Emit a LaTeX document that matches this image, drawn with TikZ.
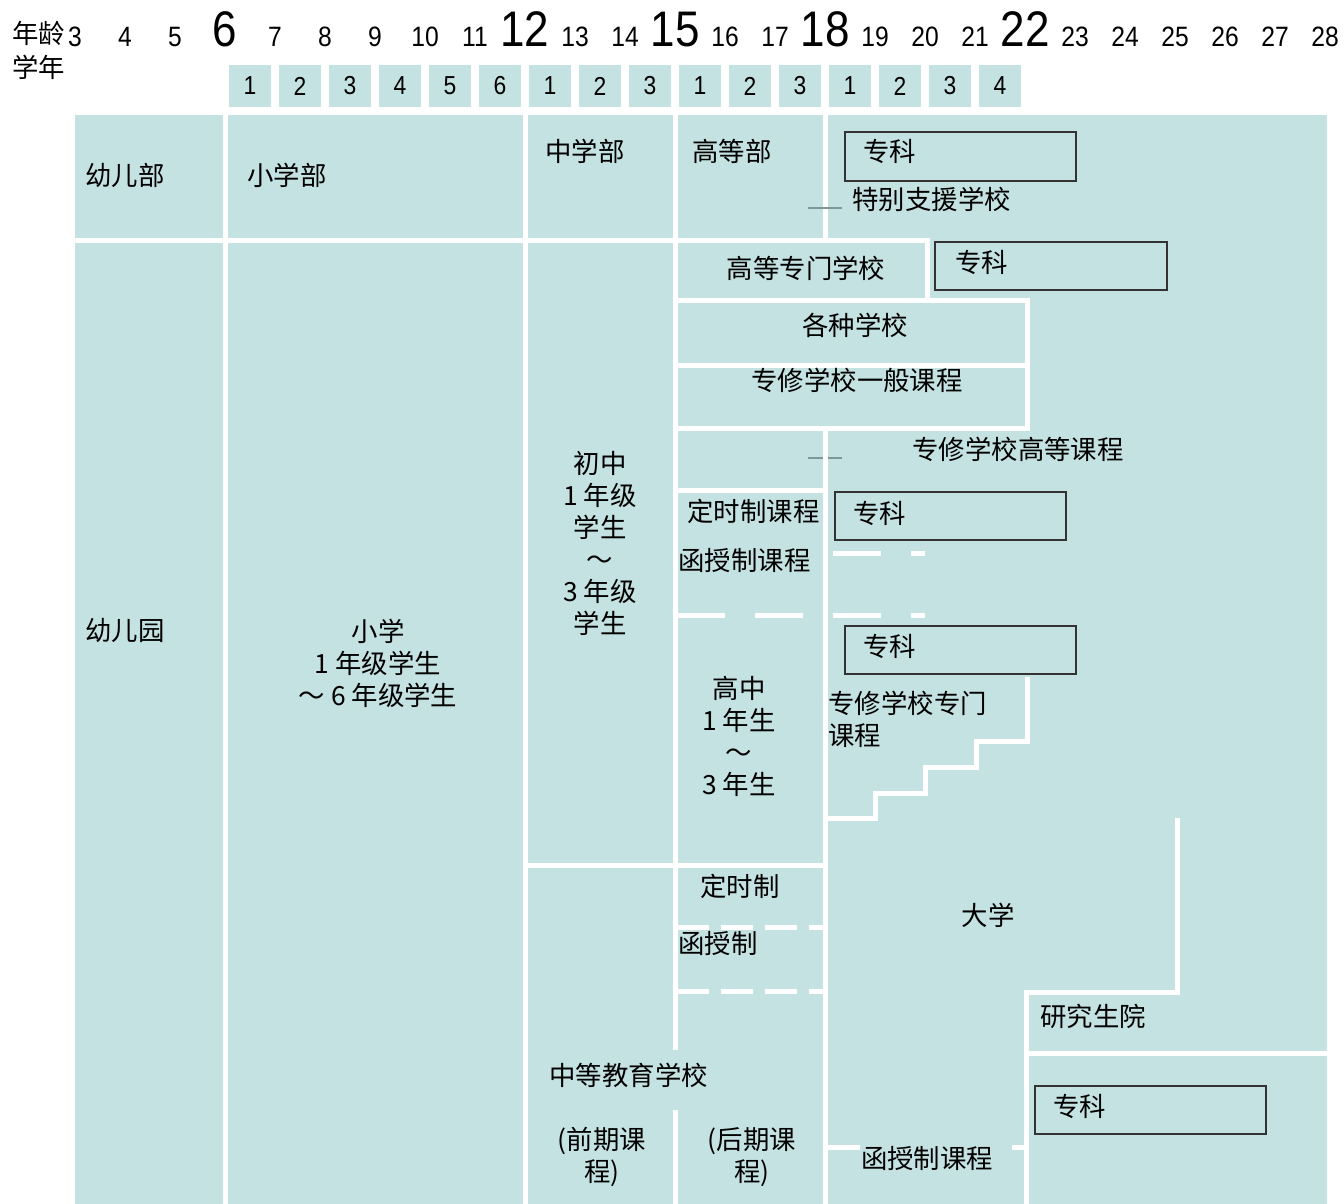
\documentclass[tikz,border=0pt]{standalone}
\usepackage{fontspec}
\setmainfont{Noto Sans CJK SC}
\newfontfamily\numfont[FakeStretch=0.88]{Liberation Sans}
\definecolor{schoolteal}{HTML}{C4E2E1}
\definecolor{markgray}{HTML}{7D9897}
\definecolor{boxline}{HTML}{333333}
\tikzset{
  wall/.style={white, line width=2.5pt},
  longdash/.style={wall, dash pattern=on 24pt off 15pt},
  shortdash/.style={wall, dash pattern=on 16pt off 6pt},
  tickmark/.style={markgray, line width=1pt},
  kbox/.style={boxline, line width=1pt},
  lbl/.style={inner sep=0pt, font=\fontsize{13.2}{16}\selectfont},
  agesmall/.style={anchor=base, inner sep=0pt, font=\numfont\fontsize{14}{14}\selectfont},
  agebig/.style={anchor=base, inner sep=0pt, font=\numfont\fontsize{25}{25}\selectfont},
  grade/.style={fill=schoolteal, minimum width=21pt, minimum height=21pt, inner sep=0pt, font=\numfont\fontsize{13}{13}\selectfont}
}
\begin{document}
\begin{tikzpicture}[x=0.5pt,y=-0.5pt]
\useasboundingbox (0,0) rectangle (1344,1204);
\fill[schoolteal] (75,115) rectangle (1327,1204);
\draw[tickmark] (808,458) -- (842,458);
\draw[wall] (225,115) -- (225,1204);
\draw[wall] (525,115) -- (525,1204);
\draw[wall] (675,115) -- (675,1050);
\draw[wall] (675,1110) -- (675,1204);
\draw[wall] (825,115) -- (825,240);
\draw[wall] (75,240) -- (927,240) -- (927,300);
\draw[wall] (675,300) -- (1027,300) -- (1027,428) -- (675,428);
\draw[wall] (675,365) -- (1027,365);
\draw[wall] (825,428) -- (825,1204);
\draw[wall] (675,490) -- (825,490);
\draw[wall] (1027,677) -- (1027,741) -- (976,741) -- (976,767) -- (925,767) -- (925,793) -- (875,793) -- (875,818) -- (825,818);
\draw[wall] (525,865) -- (825,865);
\draw[wall] (1177,818) -- (1177,992) -- (1026,992) -- (1026,1204);
\draw[wall] (1026,1053) -- (1327,1053);
\draw[wall] (825,1147) -- (860,1147);
\draw[wall] (1012,1147) -- (1026,1147);
\draw[longdash] (677,615) -- (925,615);
\draw[longdash] (833,553) -- (925,553);
\draw[shortdash] (677,927) -- (825,927);
\draw[shortdash] (677,991) -- (825,991);
\draw[tickmark] (808,208) -- (842,208);
\draw[kbox] (845,132) rectangle (1076,181);
\draw[kbox] (935,242) rectangle (1167,290);
\draw[kbox] (835,492) rectangle (1066,540);
\draw[kbox] (845,626) rectangle (1076,674);
\draw[kbox] (1035,1086) rectangle (1266,1134);
\node[lbl, anchor=west] (agehead) at (12,33) {年龄};
\node[lbl, anchor=west] (gradehead) at (12,67) {学年};
\node[agesmall] (age3) at (75,47) {3};
\node[agesmall] (age4) at (125,47) {4};
\node[agesmall] (age5) at (175,47) {5};
\node[agebig] (age6) at (225,47) {6};
\node[agesmall] (age7) at (275,47) {7};
\node[agesmall] (age8) at (325,47) {8};
\node[agesmall] (age9) at (375,47) {9};
\node[agesmall] (age10) at (425,47) {10};
\node[agesmall] (age11) at (475,47) {11};
\node[agebig] (age12) at (525,47) {12};
\node[agesmall] (age13) at (575,47) {13};
\node[agesmall] (age14) at (625,47) {14};
\node[agebig] (age15) at (675,47) {15};
\node[agesmall] (age16) at (725,47) {16};
\node[agesmall] (age17) at (775,47) {17};
\node[agebig] (age18) at (825,47) {18};
\node[agesmall] (age19) at (875,47) {19};
\node[agesmall] (age20) at (925,47) {20};
\node[agesmall] (age21) at (975,47) {21};
\node[agebig] (age22) at (1025,47) {22};
\node[agesmall] (age23) at (1075,47) {23};
\node[agesmall] (age24) at (1125,47) {24};
\node[agesmall] (age25) at (1175,47) {25};
\node[agesmall] (age26) at (1225,47) {26};
\node[agesmall] (age27) at (1275,47) {27};
\node[agesmall] (age28) at (1325,47) {28};
\node[grade] (el1) at (250,86) {1};
\node[grade] (el2) at (300,86) {2};
\node[grade] (el3) at (350,86) {3};
\node[grade] (el4) at (400,86) {4};
\node[grade] (el5) at (450,86) {5};
\node[grade] (el6) at (500,86) {6};
\node[grade] (jh1) at (550,86) {1};
\node[grade] (jh2) at (600,86) {2};
\node[grade] (jh3) at (650,86) {3};
\node[grade] (hs1) at (700,86) {1};
\node[grade] (hs2) at (750,86) {2};
\node[grade] (hs3) at (800,86) {3};
\node[grade] (un1) at (850,86) {1};
\node[grade] (un2) at (900,86) {2};
\node[grade] (un3) at (950,86) {3};
\node[grade] (un4) at (1000,86) {4};
\node[lbl, anchor=west] (kinderdept) at (85,175) {幼儿部};
\node[lbl, anchor=west] (elemdept) at (247,175) {小学部};
\node[lbl, anchor=west] (middept) at (545,151) {中学部};
\node[lbl, anchor=west] (highdept) at (692,151) {高等部};
\node[lbl, anchor=west] (zk1) at (863,151) {专科};
\node[lbl, anchor=west] (special) at (852,199) {特别支援学校};
\node[lbl] (kosen) at (806,268) {高等专门学校};
\node[lbl, anchor=west] (zk2) at (955,262) {专科};
\node[lbl] (misc) at (855,325) {各种学校};
\node[lbl] (sengen) at (857,380) {专修学校一般课程};
\node[lbl] (senhigh) at (1018,449) {专修学校高等课程};
\node[lbl, anchor=west] (parttime) at (687,511) {定时制课程};
\node[lbl, anchor=west] (zk3) at (853,513) {专科};
\node[lbl, anchor=west] (corresp) at (678,560) {函授制课程};
\node[lbl, align=center] (junior) at (600,543) {初中\\1 年级\\学生\\～\\3 年级\\学生};
\node[lbl, anchor=west] (kinder) at (85,631) {幼儿园};
\node[lbl, align=center] (elem) at (378,663) {小学\\1 年级学生\\～ 6 年级学生};
\node[lbl, anchor=west] (zk4) at (863,646) {专科};
\node[lbl, align=center] (senior) at (739,736) {高中\\1 年生\\～\\3 年生};
\node[lbl, align=left, anchor=west] (senpro) at (828,719) {专修学校专门\\课程};
\node[lbl] (parttime2) at (740,886) {定时制};
\node[lbl] (univ) at (988,915) {大学};
\node[lbl, anchor=west] (corresp2) at (678,943) {函授制};
\node[lbl, anchor=west] (grad) at (1040,1016) {研究生院};
\node[lbl, anchor=west] (secedu) at (549,1075) {中等教育学校};
\node[lbl, anchor=west] (zk5) at (1053,1106) {专科};
\node[lbl, align=center] (early) at (602,1157) {(前期课\\程)};
\node[lbl, align=center] (late) at (752,1157) {(后期课\\程)};
\node[lbl] (corresp3) at (927,1158) {函授制课程};
\end{tikzpicture}
\end{document}
